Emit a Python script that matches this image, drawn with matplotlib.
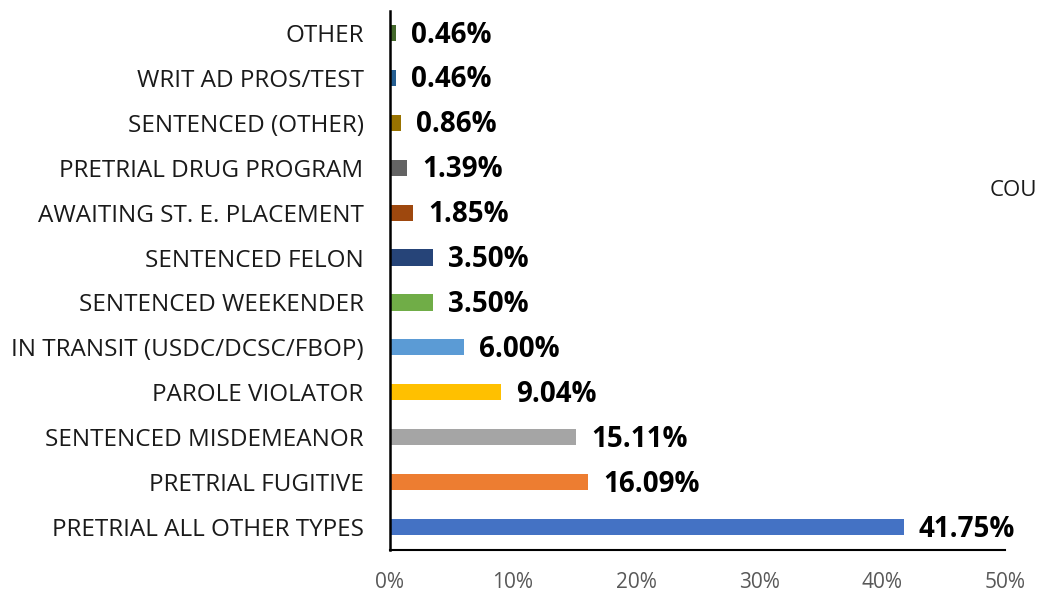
import matplotlib
matplotlib.use("Agg")
import matplotlib.pyplot as plt
from matplotlib.ticker import PercentFormatter

categories = [
    "PRETRIAL ALL OTHER TYPES",
    "PRETRIAL FUGITIVE",
    "SENTENCED MISDEMEANOR",
    "PAROLE VIOLATOR",
    "IN TRANSIT (USDC/DCSC/FBOP)",
    "SENTENCED WEEKENDER",
    "SENTENCED FELON",
    "AWAITING ST. E. PLACEMENT",
    "PRETRIAL DRUG PROGRAM",
    "SENTENCED (OTHER)",
    "WRIT AD PROS/TEST",
    "OTHER",
]
values = [41.75, 16.09, 15.11, 9.04, 6.00, 3.50, 3.50, 1.85, 1.39, 0.86, 0.46, 0.46]
colors = ["#4472C4", "#ED7D31", "#A5A5A5", "#FFC000", "#5B9BD5", "#70AD47",
          "#264478", "#9E480E", "#636363", "#997300", "#255E91", "#43682B"]
xticks = [0, 10, 20, 30, 40, 50]

plt.rcParams['font.family'] = ['Open Sans', 'DejaVu Sans']

fig = plt.figure(figsize=(10.37, 5.92), dpi=100)
ax = fig.add_axes([390/1037, 1 - 549.5/592, (1005 - 390)/1037, (549.5 - 10.5)/592])

y = list(range(len(categories)))
ax.barh(y, values, height=0.36, color=colors)
for yi, v in zip(y, values):
    ax.annotate(f"{v:.2f}%", xy=(v, yi), xytext=(11, -1.5), textcoords="offset points",
                va="center", ha="left", fontsize=20, fontweight="bold", color="black")

ax.set_xlim(0, 50)
ax.set_ylim(-0.5, len(categories) - 0.5)
ax.set_yticks(y)
ax.set_yticklabels(categories, fontsize=17.5, color="#1a1a1a")
ax.set_xticks(xticks)
ax.xaxis.set_major_formatter(PercentFormatter(decimals=0))
ax.tick_params(axis="x", length=0, pad=16, labelsize=15, labelcolor="#595959")
ax.tick_params(axis="y", length=0, pad=19)

for s in ["top", "right"]:
    ax.spines[s].set_visible(False)
ax.spines["left"].set_color("black")
ax.spines["left"].set_linewidth(1.8)
ax.spines["bottom"].set_color("black")
ax.spines["bottom"].set_linewidth(1.5)

fig.text(990/1037, 1 - 190/592, "COU", fontsize=16, va="center", ha="left", color="#1a1a1a")

fig.savefig("out.png", dpi=100)
